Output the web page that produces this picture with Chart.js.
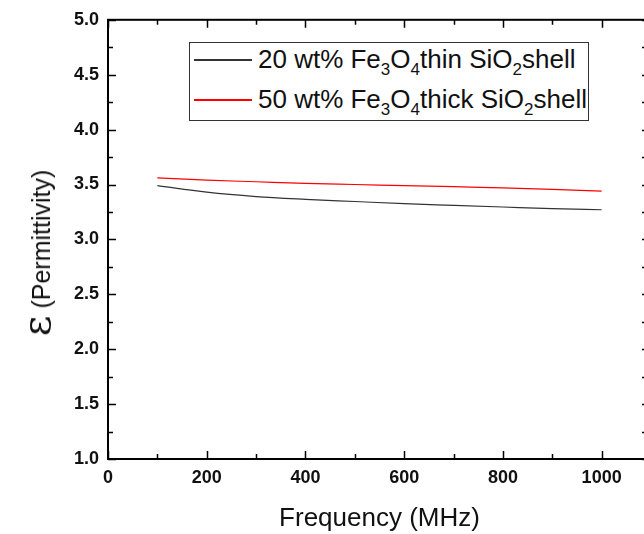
<!DOCTYPE html>
<html>
<head>
<meta charset="utf-8">
<script src="https://cdn.jsdelivr.net/npm/chart.js@4/dist/chart.umd.min.js"></script>
<style>
  body { margin: 0; overflow: hidden; background: #fff; }
  #wrap { position: relative; width: 670px; height: 534px; }
  #legend {
    position: absolute; left: 189px; top: 42px; width: 400px; height: 79px;
    border: 1px solid #333; background: #fff; box-sizing: border-box;
    font-family: "Liberation Sans", Arial, sans-serif; font-size: 26px; color: #111;
  }
  .row { position: absolute; left: 0; height: 30px; line-height: 30px; white-space: nowrap; }
  .swatch { position: absolute; left: 4px; top: 15px; width: 58px; height: 1.5px; }
  .label { position: absolute; left: 68px; top: 0; }
  .row sub { font-size: 17px; vertical-align: -7px; line-height: 0; }
  #ytitle {
    position: absolute; left: 36px; top: 253px; transform: translate(-50%, -50%) rotate(-90deg);
    white-space: nowrap; font-family: "Liberation Sans", Arial, sans-serif; font-size: 25px; color: #111;
  }
  #ytitle .eps { font-size: 40px; font-family: "DejaVu Serif", serif; }
</style>
</head>
<body>
<div id="wrap">
  <canvas id="chart" width="670" height="534"></canvas>
  <div id="legend">
    <div class="row" style="top:1px"><div class="swatch" style="background-color:#333333"></div><span class="label">20 wt% Fe<sub>3</sub>O<sub>4</sub>thin SiO<sub>2</sub>shell</span></div>
    <div class="row" style="top:41px"><div class="swatch" style="background-color:#ff0000"></div><span class="label">50 wt% Fe<sub>3</sub>O<sub>4</sub>thick SiO<sub>2</sub>shell</span></div>
  </div>
  <div id="ytitle"><span class="eps">ε</span> (Permittivity)</div>
</div>
<script>
// Frequency points (MHz)
const frequencies = [100, 200, 300, 400, 500, 600, 700, 800, 900, 1000];
// Permittivity
const thinShell = [3.49, 3.43, 3.39, 3.365, 3.345, 3.325, 3.31, 3.295, 3.28, 3.27];
const thickShell = [3.56, 3.54, 3.525, 3.51, 3.50, 3.49, 3.48, 3.47, 3.455, 3.44];

// Axis ticks
const xTicks = [0, 200, 400, 600, 800, 1000];
const xMinorTicks = [100, 300, 500, 700, 900];
const yTicks = [1.0, 1.5, 2.0, 2.5, 3.0, 3.5, 4.0, 4.5, 5.0];
const yMinorTicks = [1.25, 1.75, 2.25, 2.75, 3.25, 3.75, 4.25, 4.75];

const tickFont = { family: "'Liberation Sans', Arial, sans-serif", size: 18, weight: "bold" };

// Box around the plot with inward ticks on all four sides
const frameTicks = {
  id: "frameTicks",
  afterDraw(chart) {
    const { ctx, chartArea: a, scales: { x, y } } = chart;
    ctx.save();
    ctx.strokeStyle = "#000";
    ctx.lineWidth = 2;
    ctx.strokeRect(a.left, a.top, a.right - a.left, a.bottom - a.top);
    ctx.beginPath();
    const xTick = (v, len) => {
      const px = Math.round(x.getPixelForValue(v)) + 0.5;
      ctx.moveTo(px, a.bottom); ctx.lineTo(px, a.bottom - len);
      ctx.moveTo(px, a.top); ctx.lineTo(px, a.top + len);
    };
    const yTick = (v, len) => {
      const py = Math.round(y.getPixelForValue(v)) + 0.5;
      ctx.moveTo(a.left, py); ctx.lineTo(a.left + len, py);
      ctx.moveTo(a.right, py); ctx.lineTo(a.right - 9, py);
    };
    xTicks.forEach(v => xTick(v, 8));
    xMinorTicks.forEach(v => xTick(v, 5));
    yTicks.forEach(v => yTick(v, 8));
    yMinorTicks.forEach(v => yTick(v, 5));
    ctx.lineWidth = 1.5;
    ctx.stroke();
    ctx.restore();
  }
};

const ctx = document.getElementById("chart").getContext("2d");

const chart = new Chart(ctx, {
  type: "line",
  data: {
    datasets: [
      {
        label: "20 wt% Fe3O4 thin SiO2 shell",
        data: frequencies.map((f, i) => ({ x: f, y: thinShell[i] })),
        borderColor: "#333333",
        borderWidth: 1.2,
        pointRadius: 0,
        cubicInterpolationMode: "monotone",
      },
      {
        label: "50 wt% Fe3O4 thick SiO2 shell",
        data: frequencies.map((f, i) => ({ x: f, y: thickShell[i] })),
        borderColor: "#ff0000",
        borderWidth: 1.2,
        pointRadius: 0,
        cubicInterpolationMode: "monotone",
      },
    ],
  },
  options: {
    responsive: false,
    animation: false,
    layout: { padding: { top: 17, right: 19, left: 0, bottom: 0 } },
    plugins: { legend: { display: false }, tooltip: { enabled: false } },
    scales: {
      x: {
        type: "linear",
        min: 0,
        max: 1100,
        afterBuildTicks: (scale) => { scale.ticks = xTicks.map(v => ({ value: v })); },
        afterFit: (scale) => { scale.height = 75; },
        grid: { display: false, drawTicks: false },
        border: { display: false },
        ticks: { font: tickFont, color: "#111", padding: 8, maxRotation: 0, callback: (v) => String(v) },
        title: {
          display: true,
          text: "Frequency (MHz)",
          color: "#111",
          font: { family: "'Liberation Sans', Arial, sans-serif", size: 26 },
          padding: { top: 9, bottom: 0 },
        },
      },
      y: {
        min: 1,
        max: 5,
        afterBuildTicks: (scale) => { scale.ticks = yTicks.map(v => ({ value: v })); },
        afterFit: (scale) => { scale.width = 108; },
        grid: { display: false, drawTicks: false },
        border: { display: false },
        ticks: { font: tickFont, color: "#111", padding: 9, callback: (v) => v.toFixed(1) },
      },
    },
  },
  plugins: [frameTicks],
});
</script>
</body>
</html>
